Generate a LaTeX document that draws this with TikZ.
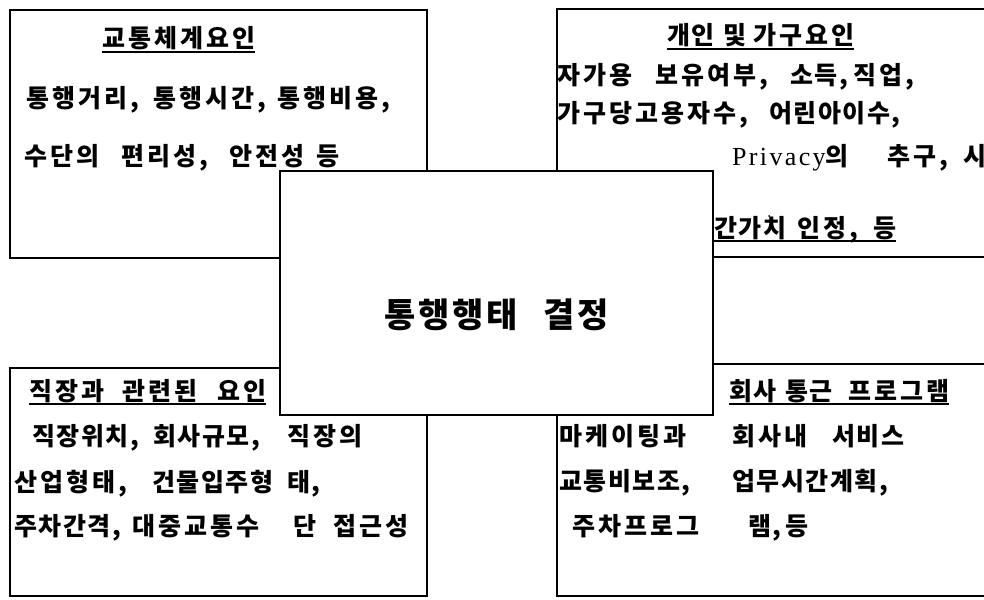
\documentclass[tikz,border=0pt]{standalone}
\usepackage{fontspec}
\setmainfont{Liberation Serif}
\newfontfamily\krm{Noto Sans CJK KR}[LetterSpace=6]
\newfontfamily\krw{Noto Sans CJK KR}[LetterSpace=12]
\newfontfamily\krbig{Noto Sans CJK KR}[LetterSpace=8]
\newfontfamily\lat{Liberation Serif}[LetterSpace=9]
% a word set at its own start (with its space); the next word starts #1 pt further on
\newcommand\wbx[2]{\makebox[#1pt][l]{#2\ }}
\begin{document}
\begin{tikzpicture}[x=1pt,y=-1pt,
  box/.style={draw=black, line width=2.4pt, fill=white, anchor=north west, inner sep=0pt, outer sep=0pt},
  txt/.style={anchor=base west, inner sep=0pt, font=\krm\bfseries\fontsize{25}{25}\selectfont},
  uline/.style={line width=1.4pt}]
\clip (0,0) rectangle (984,599);
\fill[white] (0,0) rectangle (984,599);
% outer boxes
\node[box, minimum width=417pt, minimum height=248pt] (tl) at (10,10) {};
\node[box, minimum width=460pt, minimum height=248pt] (tr) at (557,9) {};
\node[box, minimum width=417pt, minimum height=228pt] (bl) at (10,368) {};
\node[box, minimum width=460pt, minimum height=232pt] (br) at (557,364) {};
% centre box
\node[box, minimum width=433pt, minimum height=244pt] (c) at (280,171) {};
\node[anchor=base west, inner sep=0pt, font=\krbig\bfseries\fontsize{34}{34}\selectfont] (ct) at (384,327) {\wbx{159}{통행행태}결정};
% top left
\node[txt] (tlh) at (102,48) {\krw 교통체계요인};
\draw[uline] ([yshift=-4pt]tlh.base west) -- ([yshift=-4pt]tlh.base east);
\node[txt] (tl1) at (26,108) {\wbx{127}{\krw 통행거리,}\wbx{124}{\krw 통행시간,}{\krw 통행비용,}};
\node[txt] (tl2) at (24,165) {\wbx{97}{\krw 수단의}\wbx{108}{\krw 편리성,}\wbx{87}{\krw 안전성}등};
% top right
\node[txt] (trh) at (667,45) {\wbx{56}{개인}\wbx{30}{및}{\krw 가구요인}};
\draw[uline] ([yshift=-4pt]trh.base west) -- ([yshift=-4pt]trh.base east);
\node[txt] (tr1) at (557,85) {\wbx{98}{\krw 자가용}\wbx{135}{\krw 보유여부,}\wbx{63}{소득,}{\krw 직업,}};
\node[txt] (tr2) at (557,122) {\wbx{212}{\krw 가구당고용자수,}어린아이수,};
\node[txt] (tr3) at (732,165) {\wbx{155}{{\lat\mdseries\fontsize{26}{26}\selectfont Privacy}의}\wbx{76}{\krw 추구,}시};
\node[txt] (tr4) at (714,237) {\wbx{83}{간가치}\wbx{76}{\krw 인정,}등};
\draw[uline] ([yshift=-4pt]tr4.base west) -- ([yshift=-4pt]tr4.base east);
\fill (769,216) circle (1pt);
% bottom left
\node[txt] (blh) at (29,400) {\wbx{93}{\krw 직장과}\wbx{95}{\krw 관련된}{\krw 요인}};
\draw[uline] ([yshift=-4pt]blh.base west) -- ([yshift=-4pt]blh.base east);
\node[txt] (bl1) at (32,445) {\wbx{121}{직장위치,}\wbx{134}{회사규모,}{\krw 직장의}};
\node[txt] (bl2) at (14,491) {\wbx{138}{\krw 산업형태,}\wbx{135}{건물입주형}태,};
\node[txt] (bl3) at (14,535) {\wbx{118}{주차간격,}\wbx{161}{\krw 대중교통수}\wbx{40}{단}{\krw 접근성}};
% bottom right
\node[txt] (brh) at (729,400) {\wbx{56}{회사}\wbx{63}{통근}{\krw 프로그램}};
\draw[uline] ([yshift=-4pt]brh.base west) -- ([yshift=-4pt]brh.base east);
\node[txt] (br1) at (559,445) {\wbx{173}{\krw 마케이팅과}\wbx{100}{\krw 회사내}서비스};
\node[txt] (br2) at (559,490) {\wbx{173}{교통비보조,}업무시간계획,};
\node[txt] (br3) at (572,535) {\wbx{176}{\krw 주차프로그}\wbx{37}{램,}등};
\end{tikzpicture}
\end{document}
